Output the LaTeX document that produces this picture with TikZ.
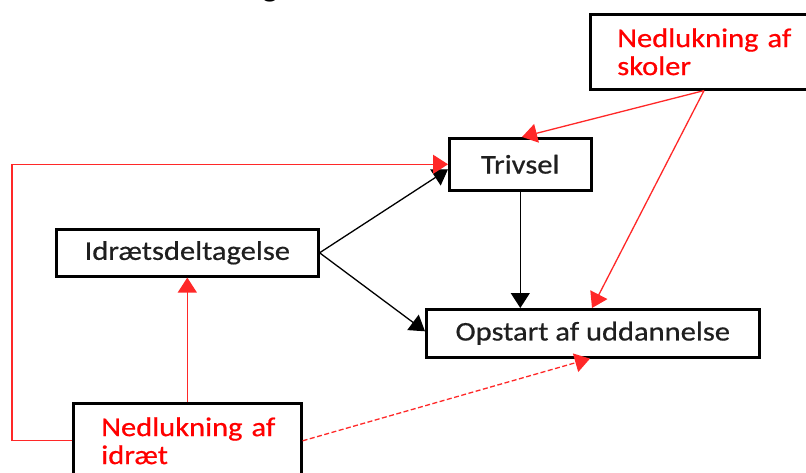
\documentclass[tikz,border=0pt]{standalone}
\usepackage{fontspec}
\setmainfont{Carlito}[FakeStretch=1.13,FakeBold=0.6]
\newfontfamily\titlefont{Carlito}[FakeStretch=1.13]
\usetikzlibrary{arrows.meta,calc}
\definecolor{lred}{RGB}{255,40,40}
\begin{document}
\begin{tikzpicture}[x=1pt,y=-1pt,
  box/.style={draw=black, line width=2.6pt, fill=white, inner sep=0pt, anchor=north west,
    font=\fontsize{27}{28}\selectfont, text=black!88},
  redbox/.style={box, text=red, align=left, minimum height=75pt},
  blk/.style={draw=black, line width=1.3pt, -{Triangle[length=15pt,width=19pt]}},
  rd/.style={draw=lred, line width=1.3pt, -{Triangle[length=15pt,width=19pt]}},
  rddash/.style={rd, dash pattern=on 5pt off 2.5pt}
]
\useasboundingbox (0,0) rectangle (806,473);
\clip (0,0) rectangle (806,473);
\fill[white] (0,0) rectangle (806,473);

\node[font=\titlefont\bfseries\fontsize{27}{28}\selectfont, anchor=base] (ttl) at (270,-2) {g};

\node[box, minimum width=142pt, minimum height=52pt] (triv) at (448,137) {Trivsel};
\node[box, minimum width=262pt, minimum height=47pt] (idr) at (55,228) {Idrætsdeltagelse};
\node[box, minimum width=333pt, minimum height=48pt] (opst) at (425,308) {Opstart af uddannelse};
\node[redbox, text width=200pt, inner xsep=20pt] (skol) at (589,13) {\hspace*{7pt}Nedlukning af\\\hspace*{7pt}skoler};
\node[redbox, text width=200pt, inner xsep=14pt] (idrt) at (72,402) {\hspace*{14pt}Nedlukning af\\\hspace*{14pt}idræt};

\coordinate (skb) at ($(skol.south west)+(115,0)$);
\coordinate (lc) at (12,0);

\draw[rd] (skb) -- ($(triv.north west)+(74,0)$);
\draw[rd] (skb) -- ($(opst.north west)+(167,0)$);
\draw[blk] (triv.south) -- (triv.south |- opst.north);
\draw[blk] (idr.east) -- ($(triv.west)+(0,5)$);
\draw[blk] (idr.east) -- ($(opst.west)+(0,-2)$);
\draw[rd] (idrt.north) -- (idrt.north |- idr.south);
\draw[rd] (idrt.west) -- (idrt.west -| lc) |- (triv.west);
\draw[rddash] (idrt.east) -- ($(opst.south west)+(165,0)$);
\end{tikzpicture}
\end{document}
